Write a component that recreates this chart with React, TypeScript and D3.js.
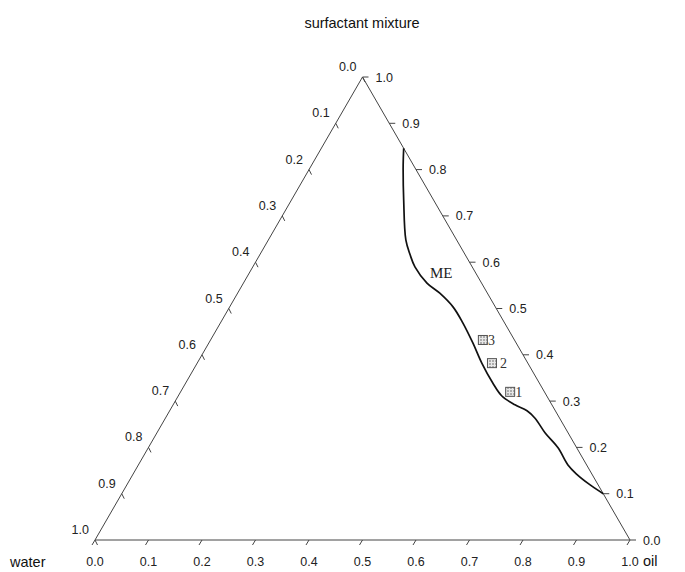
import React from "react";
import * as d3 from "d3";

// ternary compositions: [water, oil, surfactant]
const boundary = [
  [0.0, 0.154, 0.846],
  [0.019, 0.171, 0.81],
  [0.056, 0.21, 0.734],
  [0.095, 0.257, 0.648],
  [0.103, 0.281, 0.616],
  [0.107, 0.303, 0.59],
  [0.102, 0.343, 0.555],
  [0.089, 0.378, 0.533],
  [0.079, 0.418, 0.503],
  [0.078, 0.453, 0.469],
  [0.081, 0.494, 0.425],
  [0.086, 0.532, 0.382],
  [0.087, 0.574, 0.339],
  [0.084, 0.605, 0.311],
  [0.069, 0.639, 0.292],
  [0.053, 0.668, 0.279],
  [0.048, 0.691, 0.263],
  [0.044, 0.726, 0.231],
  [0.035, 0.766, 0.199],
  [0.035, 0.803, 0.162],
  [0.029, 0.828, 0.143],
  [0.015, 0.866, 0.119],
  [0.0, 0.9, 0.1],
];

const formulations = ["1", "2", "3"];
const formWater = [0.064, 0.067, 0.059];
const formOil = [0.616, 0.551, 0.509];
const formSurf = [0.32, 0.382, 0.432];

const tickValues = [0, 0.1, 0.2, 0.3, 0.4, 0.5, 0.6, 0.7, 0.8, 0.9, 1.0];

const W = 685, H = 572;
const xs = d3.scaleLinear().domain([0, 1]).range([95, 630]);
const ys = d3.scaleLinear().domain([0, 1]).range([540, 77]);

// oil across, surfactant up
const px = (o: number, s: number) => xs(o + s / 2);
const py = (s: number) => ys(s);

const fmt = d3.format(".1f");
const axisFont = "'Liberation Sans', Arial, sans-serif";
const serif = "'Liberation Serif', 'Times New Roman', serif";

const App = () => {
  const line = d3.line<number[]>()
    .x(d => px(d[1], d[2]))
    .y(d => py(d[2]))
    .curve(d3.curveCatmullRom.alpha(0.5));

  const top = [px(0, 1), py(1)];
  const left = [px(0, 0), py(0)];
  const right = [px(1, 0), py(0)];

  return (
    <svg width={W} height={H} style={{ position: "absolute", left: 0, top: 0, background: "#fff" }}>
      <defs>
        <pattern id="dots" width="3" height="3" patternUnits="userSpaceOnUse">
          <rect width="3" height="3" fill="#e8e8e8" />
          <circle cx="1" cy="1" r="0.7" fill="#444" />
        </pattern>
      </defs>

      {/* triangle */}
      <path
        d={`M${top[0]},${top[1]}L${left[0]},${left[1]}L${right[0]},${right[1]}Z`}
        fill="none" stroke="#444" strokeWidth={1}
      />

      {/* bottom axis: oil */}
      {tickValues.map(t => {
        const x = px(t, 0), y = py(0);
        return (
          <g key={"b" + t}>
            <line x1={x} y1={y} x2={x - 3} y2={y + 5} stroke="#444" />
            <text x={x} y={y + 26} textAnchor="middle" fontSize={12.5} fontFamily={axisFont} fill="#222">{fmt(t)}</text>
          </g>
        );
      })}

      {/* right axis: surfactant */}
      {tickValues.map(t => {
        const x = px(1 - t, t), y = py(t);
        return (
          <g key={"r" + t}>
            <line x1={x} y1={y} x2={x + 6} y2={y} stroke="#444" />
            <text x={x + 13} y={y + 4.5} fontSize={12.5} fontFamily={axisFont} fill="#222">{fmt(t)}</text>
          </g>
        );
      })}

      {/* left axis: water (0 at top) */}
      {tickValues.map(t => {
        const x = px(0, 1 - t), y = py(1 - t);
        return (
          <g key={"l" + t}>
            <line x1={x} y1={y} x2={x + 2.5} y2={y + 5} stroke="#444" />
            <text x={x - 6} y={y - 6} textAnchor="end" fontSize={12.5} fontFamily={axisFont} fill="#222">{fmt(t)}</text>
          </g>
        );
      })}

      {/* ME boundary */}
      <path d={line(boundary) || ""} fill="none" stroke="#111" strokeWidth={1.7} />
      <text x={430} y={278} fontSize={15} fontFamily={serif} fill="#222">ME</text>

      {/* formulations */}
      {formulations.map((f, i) => {
        const x = px(formOil[i], formSurf[i]), y = py(formSurf[i]);
        return (
          <g key={f}>
            <rect x={x - 4.5} y={y - 4.5} width={9} height={9} fill="url(#dots)" stroke="#555" strokeWidth={1} />
            <text x={x + (f === "2" ? 8 : 5)} y={y + 5} fontSize={14} fontFamily={serif} fill="#333">{f}</text>
          </g>
        );
      })}

      {/* vertex titles */}
      <text x={362} y={28} textAnchor="middle" fontSize={14.5} fontFamily={axisFont} fill="#111">surfactant mixture</text>
      <text x={10} y={567} fontSize={14.5} fontFamily={axisFont} fill="#111">water</text>
      <text x={643} y={566} fontSize={14.5} fontFamily={axisFont} fill="#111">oil</text>
    </svg>
  );
};

export default App;
